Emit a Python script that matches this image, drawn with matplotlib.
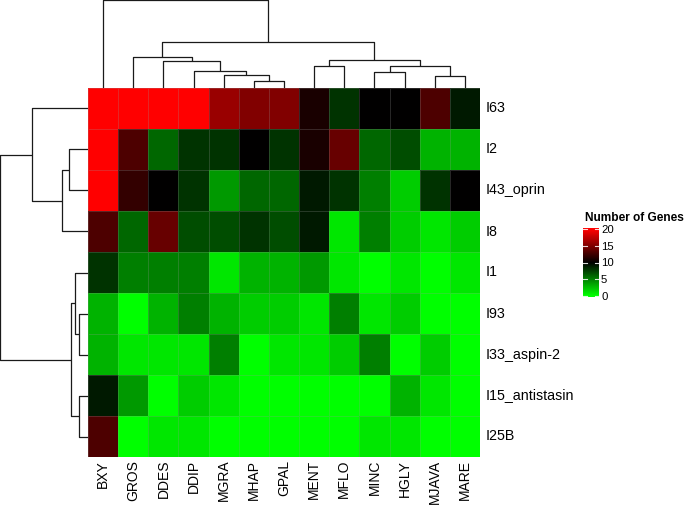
import numpy as np
import matplotlib
matplotlib.use("Agg")
import matplotlib.pyplot as plt
from matplotlib.colors import LinearSegmentedColormap

plt.rcParams['font.family'] = ['Liberation Sans', 'DejaVu Sans']

# ---------------- data ----------------
columns = ["BXY", "GROS", "DDES", "DDIP", "MGRA", "MHAP", "GPAL", "MENT",
           "MFLO", "MINC", "HGLY", "MJAVA", "MARE"]
rows = ["I63", "I2", "I43_oprin", "I8", "I1", "I93", "I33_aspin-2",
        "I15_antistasin", "I25B"]

row_I63 = [20, 20, 20, 20, 16, 15, 15, 11, 8, 10, 10, 13, 9]
row_I2 = [20, 13, 6, 8, 8, 10, 8, 11, 14, 6, 7, 3, 3]
row_I43 = [20, 12, 10, 8, 4, 6, 6, 9, 8, 5, 2, 8, 10]
row_I8 = [13, 6, 14, 7, 7, 8, 7, 9, 1, 5, 2, 1, 2]
row_I1 = [8, 5, 5, 5, 1, 3, 3, 4, 1, 0, 1, 0, 1]
row_I93 = [3, 0, 3, 5, 3, 2, 2, 1, 5, 1, 2, 0, 0]
row_I33 = [3, 1, 1, 1, 5, 0, 1, 1, 2, 5, 0, 2, 0]
row_I15 = [9, 4, 0, 2, 1, 0, 0, 0, 0, 0, 3, 1, 0]
row_I25B = [13, 0, 1, 1, 0, 0, 0, 0, 0, 1, 1, 0, 0]

# dendrogram merges (child a, child b, height); leaves are 0..n-1,
# merged clusters numbered n, n+1, ...
col_merges = [(5, 6, 21), (11, 12, 37), (4, 13, 40), (9, 10, 48),
              (3, 15, 51), (16, 14, 66), (7, 8, 67), (2, 17, 80),
              (18, 19, 85), (1, 20, 93), (22, 21, 138), (0, 23, 263)]
row_merges = [(5, 6, 28), (7, 8, 28), (4, 9, 40), (11, 10, 52),
              (1, 2, 57), (13, 3, 76), (0, 14, 167), (15, 12, 261)]

legend_title = "Number of Genes"
legend_ticks = [0, 5, 10, 15, 20]

# ---------------- figure ----------------
W, H = 685, 508
fig = plt.figure(figsize=(W / 100, H / 100), dpi=100)


def rect(x0, y0, x1, y1):
    return [x0 / W, 1 - y1 / H, (x1 - x0) / W, (y1 - y0) / H]


cmap = LinearSegmentedColormap.from_list("gbr", [(0, 1, 0), (0, 0, 0), (1, 0, 0)])
data = np.array([row_I63, row_I2, row_I43, row_I8, row_I1, row_I93,
                 row_I33, row_I15, row_I25B], dtype=float)
nr, nc = data.shape

hx0, hy0, hx1, hy1 = 88, 88, 480, 457
ax = fig.add_axes(rect(hx0, hy0, hx1, hy1))
ax.pcolormesh(np.arange(nc + 1), np.arange(nr + 1), data, cmap=cmap,
              vmin=0, vmax=20, edgecolors=(0.6, 0.6, 0.6, 0.25), linewidth=0.4)
ax.set_xlim(0, nc)
ax.set_ylim(nr, 0)
ax.set_xticks([])
ax.set_yticks([])
for s in ax.spines.values():
    s.set_visible(False)
for i, r in enumerate(rows):
    ax.text(nc + 0.17, i + 0.5, r, ha="left", va="center", fontsize=10.3,
            color="black", clip_on=False)
for j, c in enumerate(columns):
    ax.text(j + 0.5, nr + 0.07, c, ha="center", va="top", rotation=90,
            fontsize=10, color="black", clip_on=False)


def dendro_segments(merges, n):
    pos = {i: i + 0.5 for i in range(n)}
    hgt = {i: 0.0 for i in range(n)}
    segs = []
    for k, (a, b, h) in enumerate(merges):
        segs.append(([pos[a], pos[a], pos[b], pos[b]], [hgt[a], h, h, hgt[b]]))
        pos[n + k] = (pos[a] + pos[b]) / 2
        hgt[n + k] = h
    return segs


lc = "#1a1a1a"
# top dendrogram
axt = fig.add_axes(rect(hx0, 0, hx1, hy0))
for xs, ys in dendro_segments(col_merges, nc):
    axt.plot(xs, ys, color=lc, lw=0.9, solid_capstyle="butt")
axt.set_xlim(0, nc)
axt.set_ylim(0, 264)
axt.axis("off")

# left dendrogram
axl = fig.add_axes(rect(0, hy0, hx0, hy1))
for ps, hs in dendro_segments(row_merges, nr):
    axl.plot(hs, ps, color=lc, lw=0.9, solid_capstyle="butt")
axl.set_ylim(nr, 0)
axl.set_xlim(262, 0)
axl.axis("off")

# legend colorbar
cax = fig.add_axes(rect(583, 228, 599, 297))
grad = np.linspace(-0.3, 20.3, 256)[:, None]
cax.imshow(grad, aspect="auto", origin="lower", extent=[0, 1, -0.3, 20.3],
           cmap=cmap, vmin=0, vmax=20)
cax.set_xlim(0, 1)
cax.set_ylim(-0.3, 20.3)
for t in legend_ticks:
    cax.plot([0, 0.22], [t, t], color="white", lw=0.8, alpha=0.85)
    cax.plot([0.78, 1], [t, t], color="white", lw=0.8, alpha=0.85)
cax.set_xticks([])
cax.yaxis.tick_right()
cax.set_yticks(legend_ticks)
cax.set_yticklabels([str(t) for t in legend_ticks], fontsize=8.2)
cax.tick_params(axis="y", length=0, pad=1.5)
for s in cax.spines.values():
    s.set_visible(False)
fig.text(585 / W, 1 - 218 / H, legend_title, ha="left", va="center",
         fontsize=8.6, fontweight="bold")

fig.savefig("out.png", dpi=100)
